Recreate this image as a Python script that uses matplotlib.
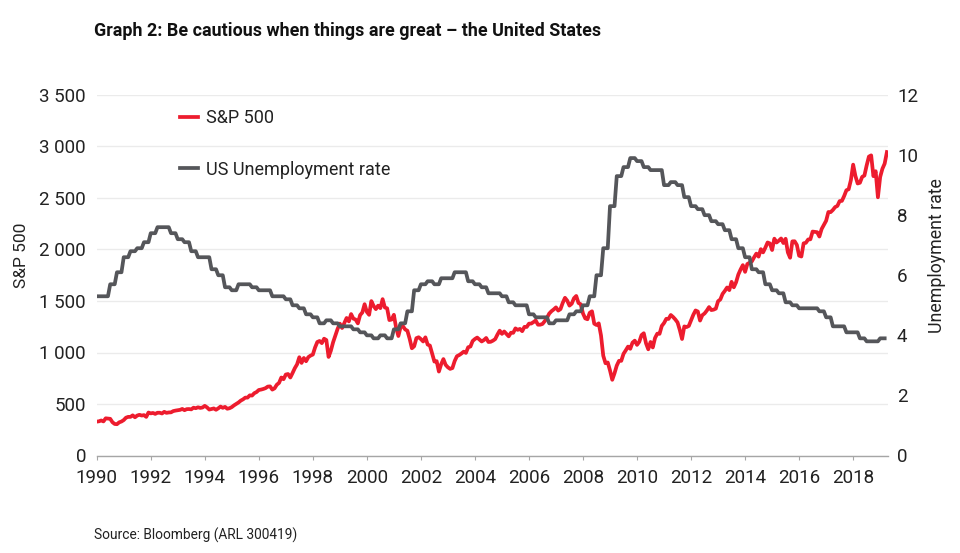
import numpy as np
import matplotlib
matplotlib.use('Agg')
import matplotlib.pyplot as plt
from matplotlib.ticker import FuncFormatter

plt.rcParams['font.family'] = ['Roboto', 'DejaVu Sans']

# S&P 500, monthly from January 1990
sp500 = [
    329, 332, 340, 331, 361, 358, 356, 323, 306, 304, 322, 330,
    344, 367, 375, 375, 390, 371, 388, 395, 388, 392, 375, 417,
    409, 413, 404, 415, 415, 408, 424, 414, 418, 419, 431, 436,
    439, 443, 452, 440, 450, 451, 448, 464, 459, 468, 462, 466,
    482, 467, 446, 451, 457, 444, 458, 475, 463, 472, 454, 459,
    470, 487, 501, 515, 533, 545, 562, 562, 584, 582, 605, 616,
    636, 640, 646, 654, 669, 671, 640, 652, 687, 705, 757, 741,
    786, 791, 757, 801, 848, 885, 954, 899, 947, 915, 955, 970,
    980, 1049, 1102, 1112, 1091, 1134, 1121, 957, 1017, 1099, 1164, 1229,
    1280, 1238, 1286, 1335, 1302, 1373, 1329, 1320, 1283, 1363, 1389, 1469,
    1394, 1366, 1499, 1452, 1421, 1455, 1431, 1518, 1437, 1429, 1315, 1320,
    1366, 1240, 1160, 1249, 1256, 1224, 1211, 1134, 1041, 1060, 1139, 1148,
    1130, 1107, 1147, 1077, 1067, 990, 912, 916, 815, 886, 936, 880,
    856, 841, 849, 917, 964, 975, 990, 1008, 996, 1051, 1058, 1112,
    1131, 1145, 1126, 1107, 1121, 1141, 1102, 1104, 1115, 1130, 1174, 1212,
    1181, 1204, 1181, 1157, 1192, 1191, 1234, 1220, 1229, 1207, 1249, 1248,
    1280, 1281, 1295, 1311, 1270, 1270, 1277, 1304, 1336, 1378, 1401, 1418,
    1438, 1407, 1421, 1482, 1531, 1503, 1455, 1474, 1527, 1549, 1481, 1468,
    1379, 1331, 1323, 1386, 1400, 1280, 1267, 1283, 1166, 969, 896, 903,
    826, 735, 798, 873, 919, 919, 987, 1021, 1057, 1036, 1096, 1115,
    1074, 1104, 1169, 1187, 1089, 1031, 1102, 1049, 1141, 1183, 1181, 1258,
    1286, 1327, 1326, 1364, 1345, 1321, 1292, 1219, 1131, 1253, 1247, 1258,
    1312, 1366, 1408, 1398, 1310, 1362, 1379, 1407, 1441, 1412, 1416, 1426,
    1498, 1515, 1569, 1598, 1631, 1606, 1686, 1633, 1682, 1757, 1806, 1848,
    1783, 1859, 1872, 1884, 1924, 1960, 1931, 2003, 1972, 2018, 2068, 2059,
    1995, 2105, 2068, 2086, 2107, 2063, 2104, 1972, 1920, 2079, 2080, 2044,
    1940, 1932, 2060, 2065, 2097, 2099, 2174, 2171, 2168, 2126, 2199, 2239,
    2279, 2364, 2363, 2384, 2412, 2423, 2470, 2472, 2519, 2575, 2585, 2674,
    2824, 2714, 2641, 2648, 2705, 2718, 2816, 2902, 2914, 2712, 2760, 2507,
    2704, 2784, 2834, 2946,
]

# unemployment rate, one level per quarter
unemployment = [
    5.3, 5.3, 5.7, 6.1,
    6.6, 6.8, 6.9, 7.1,
    7.4, 7.6, 7.6, 7.4,
    7.2, 7.1, 6.8, 6.6,
    6.6, 6.2, 6.0, 5.6,
    5.5, 5.7, 5.7, 5.6,
    5.5, 5.5, 5.3, 5.3,
    5.2, 5.0, 4.9, 4.7,
    4.6, 4.4, 4.5, 4.4,
    4.3, 4.3, 4.2, 4.1,
    4.0, 3.9, 4.0, 3.9,
    4.2, 4.4, 4.8, 5.5,
    5.7, 5.8, 5.7, 5.9,
    5.9, 6.1, 6.1, 5.8,
    5.7, 5.6, 5.4, 5.4,
    5.3, 5.1, 5.0, 5.0,
    4.7, 4.6, 4.6, 4.4,
    4.5, 4.5, 4.7, 4.8,
    5.0, 5.3, 6.0, 6.9,
    8.3, 9.3, 9.6, 9.9,
    9.8, 9.6, 9.5, 9.5,
    9.0, 9.1, 9.0, 8.6,
    8.3, 8.2, 8.0, 7.8,
    7.7, 7.5, 7.2, 6.9,
    6.6, 6.2, 6.1, 5.7,
    5.5, 5.4, 5.1, 5.0,
    4.9, 4.9, 4.9, 4.8,
    4.6, 4.3, 4.3, 4.1,
    4.1, 3.9, 3.8, 3.8,
    3.9,
]

year_ticks = list(range(1990, 2020, 2))
sp_ticks = [0, 500, 1000, 1500, 2000, 2500, 3000, 3500]
rate_ticks = [0, 2, 4, 6, 8, 10, 12]

RED = '#ed1c2e'
GREY = '#55565a'
TEXT = '#222222'

x_sp = 1990 + np.arange(len(sp500)) / 12
rate_monthly = np.repeat(unemployment, 3)
x_rate = 1990 + np.arange(len(rate_monthly)) / 12

fig = plt.figure(figsize=(9.6, 5.53), dpi=100)
ax = fig.add_axes([96.7 / 960, 1 - 455.5 / 553, (888 - 96.7) / 960, (455.5 - 95) / 553])
ax2 = ax.twinx()

line_sp, = ax.plot(x_sp, sp500, color=RED, lw=2.7, solid_joinstyle='round', label='S&P 500')
line_rate, = ax2.plot(x_rate, rate_monthly, color=GREY, lw=2.7, solid_joinstyle='round',
                      label='US Unemployment rate')

ax.set_xlim(1990, 2019.29)
ax.set_ylim(0, 3500)
ax2.set_ylim(0, 12)

ax.set_xticks(year_ticks)
ax.set_yticks(sp_ticks)
ax2.set_yticks(rate_ticks)
ax.yaxis.set_major_formatter(FuncFormatter(lambda v, p: f'{int(v):,}'.replace(',', ' ')))

ax.grid(True, axis='y', color='#ebebeb', lw=1)
ax.set_axisbelow(True)
for a in (ax, ax2):
    for s in ('top', 'left', 'right', 'bottom'):
        a.spines[s].set_visible(False)
ax.spines['bottom'].set_visible(True)
ax.spines['bottom'].set_color('#a6a6a6')
ax.spines['bottom'].set_linewidth(1)

ax.tick_params(axis='x', length=3, color='#a6a6a6', labelsize=13.5, pad=7, labelcolor=TEXT)
ax.tick_params(axis='y', length=0, labelsize=13.5, pad=7.7, labelcolor=TEXT)
ax2.tick_params(axis='y', length=0, labelsize=13.5, pad=6.5, labelcolor=TEXT)

fig.text(21 / 960, 1 - 255.5 / 553, 'S&P 500', rotation=90, ha='center', va='center',
         fontsize=12.5, color=TEXT)
fig.text(937 / 960, 1 - 255.5 / 553, 'Unemployment rate', rotation=90, ha='center', va='center',
         fontsize=12.8, color=TEXT)

ax2.legend(handles=[line_sp, line_rate], loc='upper left',
           bbox_to_anchor=((180 - 96.7) / 791.3, 1 - 14 / 360.5),
           frameon=False, fontsize=13, handlelength=1.0, handletextpad=0.45,
           labelspacing=1.87, borderpad=0, borderaxespad=0, labelcolor=TEXT)

fig.text(94 / 960, 1 - 31.5 / 553, 'Graph 2: Be cautious when things are great \u2013 the United States',
         fontsize=12.9, fontweight='bold', color='#111111', ha='left', va='center')
fig.text(94 / 960, 1 - 535.5 / 553, 'Source: Bloomberg (ARL 300419)', fontsize=9.9,
         color=TEXT, ha='left', va='center')

fig.savefig('out.png', dpi=100)
